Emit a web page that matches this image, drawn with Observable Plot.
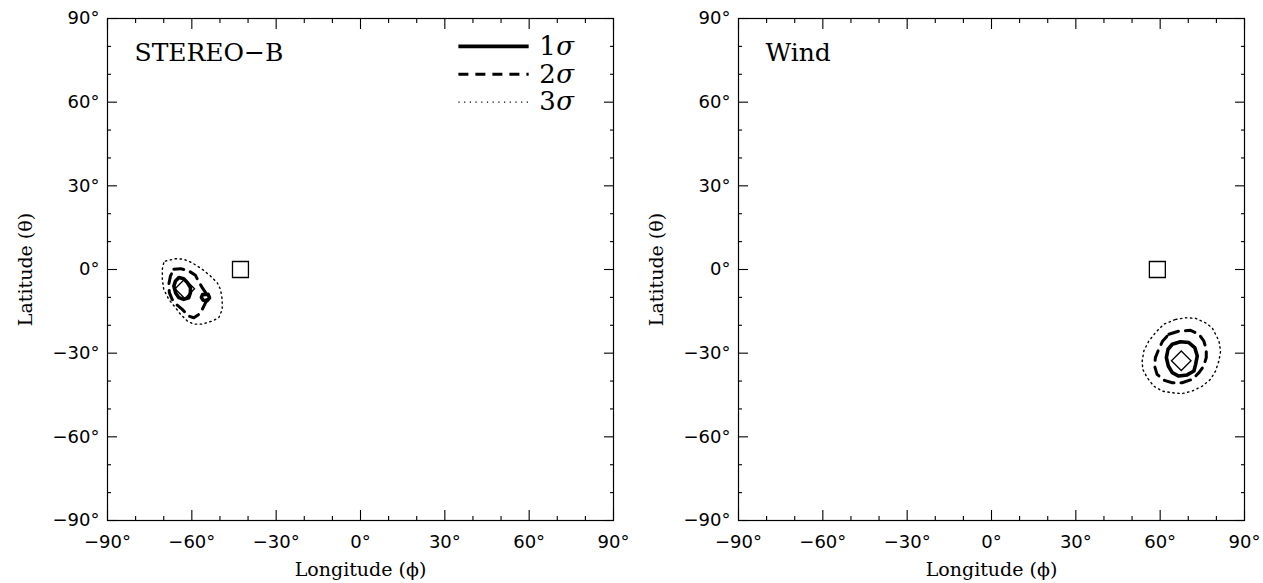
<!DOCTYPE html>
<html><head><meta charset="utf-8">
<script src="https://cdn.jsdelivr.net/npm/d3@7"></script>
<script src="https://cdn.jsdelivr.net/npm/@observablehq/plot@0.6"></script>
<style>
body{margin:0;background:#fff;}
#wrap{display:flex;width:1263px;height:583px;background:#fff;}
</style></head><body><div id="wrap"></div>
<script>
// ---- axis ticks ----
const tickValues = [-90, -60, -30, 0, 30, 60, 90];
const tickLabels = ["−90°", "−60°", "−30°", "0°", "30°", "60°", "90°"];
const minorTicks = [-80, -70, -50, -40, -20, -10, 10, 20, 40, 50, 70, 80];
const xTitle = "Longitude (ϕ)";
const yTitle = "Latitude (θ)";
const panelNames = ["STEREO−B", "Wind"];
const sigmaNumbers = ["1", "2", "3"];

// ---- STEREO-B contours [longitude, latitude] ----
const stbSigma1 = [[-64.6,-2.9],[-62.9,-3.3],[-61.6,-4.7],[-60.5,-6.5],[-60.5,-8.3],[-61.1,-10.1],[-62.9,-10.7],[-64.6,-10.1],[-65.8,-8.3],[-66.4,-5.9],[-65.8,-4.1]];
const stbSigma1b = [[-56.2,-9.0],[-54.2,-8.9],[-53.7,-10.2],[-54.5,-11.2],[-56.0,-11.0],[-56.6,-10.0]];
const stbSigma2 = [[-66.4,0.1],[-64.0,0.3],[-61.1,-0.5],[-58.7,-2.1],[-57.7,-4.1],[-56.3,-6.5],[-55.1,-8.3],[-54.5,-10.1],[-55.1,-11.9],[-56.3,-14.3],[-57.5,-16.1],[-59.3,-17.3],[-61.1,-16.7],[-63.4,-14.3],[-65.2,-12.8],[-67.0,-10.7],[-68.0,-8.3],[-68.2,-5.3],[-67.6,-2.3]];
const stbSigma3 = [[-69.4,3.0],[-65.8,3.9],[-62.9,3.7],[-59.9,2.4],[-56.3,0.1],[-53.4,-2.3],[-51.0,-4.7],[-49.8,-7.1],[-49.2,-10.7],[-49.2,-14.3],[-50.4,-17.3],[-52.8,-18.5],[-56.3,-19.6],[-59.3,-19.6],[-61.6,-18.5],[-64.0,-16.1],[-65.8,-13.7],[-68.2,-10.7],[-70.0,-7.1],[-70.5,-3.5],[-70.5,0.1],[-70.0,2.4]];
const stbSquare = [[-42.7, 0]];
const stbDiamond = [[-62.5, -6.9]];

// ---- Wind contours [longitude, latitude] ----
const windSigma1 = [[64.3,-26.8],[67.2,-25.9],[70.2,-26.2],[72.3,-28.0],[73.2,-31.0],[72.6,-34.0],[72.0,-36.4],[69.6,-37.8],[66.6,-38.2],[64.3,-37.0],[62.9,-34.6],[62.2,-31.6],[62.8,-28.6]];
const windSigma2 = [[63.1,-23.2],[66.6,-22.1],[70.8,-21.8],[73.8,-23.2],[75.5,-25.6],[76.4,-28.6],[76.4,-31.6],[75.5,-34.6],[73.8,-37.0],[71.4,-39.4],[67.8,-40.6],[64.3,-40.6],[61.3,-39.7],[58.9,-37.6],[58.0,-34.6],[58.3,-31.6],[59.5,-28.6],[60.9,-25.6]];
const windSigma3 = [[65.5,-17.9],[69.0,-17.3],[72.6,-17.5],[76.1,-19.1],[78.5,-20.9],[79.7,-23.2],[80.9,-25.6],[81.5,-29.2],[80.9,-32.8],[79.7,-36.4],[77.9,-39.4],[75.0,-41.8],[71.4,-43.6],[67.8,-44.5],[64.3,-44.2],[60.7,-43.6],[57.7,-41.8],[55.4,-38.8],[53.8,-35.8],[53.6,-32.8],[54.2,-29.2],[56.0,-25.6],[58.3,-22.7],[61.3,-19.6]];
const windSquare = [[59, 0]];
const windDiamond = [[67.5, -32.7]];

const serif = "DejaVu Serif";
const sans = "DejaVu Sans";

function contourMarks(s1list, s2, s3) {
  const m = [];
  m.push(Plot.line(s3, {x: d => d[0], y: d => d[1], curve: "linear-closed", stroke: "black", strokeWidth: 1.4, strokeDasharray: "1.4,3.6"}));
  m.push(Plot.line(s2, {x: d => d[0], y: d => d[1], curve: "linear-closed", stroke: "black", strokeWidth: 3, strokeDasharray: "10,7"}));
  for (const s1 of s1list) {
    m.push(Plot.line(s1, {x: d => d[0], y: d => d[1], curve: "linear-closed", stroke: "black", strokeWidth: 3.6, strokeLinejoin: "round"}));
  }
  return m;
}

function axisMarks() {
  const fmt = d => tickLabels[tickValues.indexOf(d)];
  const tk = {stroke: "black", strokeWidth: 1.1, fill: "none", label: null};
  return [
    Plot.axisX(tickValues, {anchor: "bottom", tickSize: 0, tickPadding: 15, tickFormat: fmt, label: null, fontSize: 18, fontFamily: sans, fill: "black"}),
    Plot.axisY(tickValues, {anchor: "left", tickSize: 0, tickPadding: 8, tickFormat: fmt, label: null, fontSize: 18, fontFamily: sans, fill: "black"}),
    Plot.axisX(tickValues, {anchor: "bottom", tickSize: -10, ...tk}),
    Plot.axisX(minorTicks, {anchor: "bottom", tickSize: -4, ...tk}),
    Plot.axisX(tickValues, {anchor: "top", tickSize: -10, ...tk}),
    Plot.axisX(minorTicks, {anchor: "top", tickSize: -4, ...tk}),
    Plot.axisY(tickValues, {anchor: "left", tickSize: -10, ...tk}),
    Plot.axisY(minorTicks, {anchor: "left", tickSize: -4, ...tk}),
    Plot.axisY(tickValues, {anchor: "right", tickSize: -10, ...tk}),
    Plot.axisY(minorTicks, {anchor: "right", tickSize: -4, ...tk}),
    Plot.text([xTitle], {text: d => d, frameAnchor: "bottom", dy: 49, textAnchor: "middle", lineAnchor: "middle", fontFamily: serif, fontSize: 19, fill: "black", style: "letter-spacing:1.5px"}),
    Plot.text([yTitle], {text: d => d, frameAnchor: "left", dx: -82, rotate: -90, textAnchor: "middle", lineAnchor: "middle", fontFamily: serif, fontSize: 19, fill: "black", style: "letter-spacing:1.5px"}),
    Plot.frame({stroke: "black", strokeWidth: 1.2})
  ];
}

function legendMarks() {
  return [
    Plot.ruleY([80], {x1: 35, x2: 60, stroke: "black", strokeWidth: 3.6}),
    Plot.ruleY([70], {x1: 35, x2: 60, stroke: "black", strokeWidth: 3, strokeDasharray: "10,7"}),
    Plot.ruleY([60], {x1: 35, x2: 60, stroke: "black", strokeWidth: 1.2, strokeDasharray: "1.2,4.5"}),
    Plot.text(sigmaNumbers, {x: 63.6, y: (d, i) => [80, 70, 60][i], text: d => d, textAnchor: "start", lineAnchor: "middle", fontFamily: serif, fontSize: 26, fill: "black"}),
    Plot.text(sigmaNumbers, {x: 63.6, y: (d, i) => [80, 70, 60][i], text: d => "σ", dx: 17, textAnchor: "start", lineAnchor: "middle", fontFamily: serif, fontStyle: "italic", fontSize: 26, fill: "black"})
  ];
}

function panel(name, s1list, s2, s3, square, diamond, legend) {
  return Plot.plot({
    width: 631, height: 583,
    marginLeft: 107, marginRight: 18, marginTop: 18, marginBottom: 63,
    x: {domain: [-90, 90]},
    y: {domain: [-90, 90]},
    style: {fontFamily: sans, fontSize: "18px", color: "black", background: "white", overflow: "visible"},
    marks: [
      ...contourMarks(s1list, s2, s3),
      Plot.dot(square, {x: d => d[0], y: d => d[1], symbol: "square", r: 9, stroke: "black", strokeWidth: 1.3, fill: "none"}),
      Plot.dot(diamond, {x: d => d[0], y: d => d[1], symbol: "diamond2", r: 8.8, stroke: "black", strokeWidth: 1.3, fill: "none"}),
      Plot.text([name], {text: d => d, frameAnchor: "top-left", dx: 27, dy: 25, lineAnchor: "top", textAnchor: "start", fontFamily: serif, fontSize: 25, fill: "black", style: "letter-spacing:2.5px"}),
      ...(legend ? legendMarks() : []),
      ...axisMarks()
    ]
  });
}

const wrap = document.getElementById("wrap");
wrap.appendChild(panel(panelNames[0], [stbSigma1, stbSigma1b], stbSigma2, stbSigma3, stbSquare, stbDiamond, true));
wrap.appendChild(panel(panelNames[1], [windSigma1], windSigma2, windSigma3, windSquare, windDiamond, false));
</script>
</body></html>
